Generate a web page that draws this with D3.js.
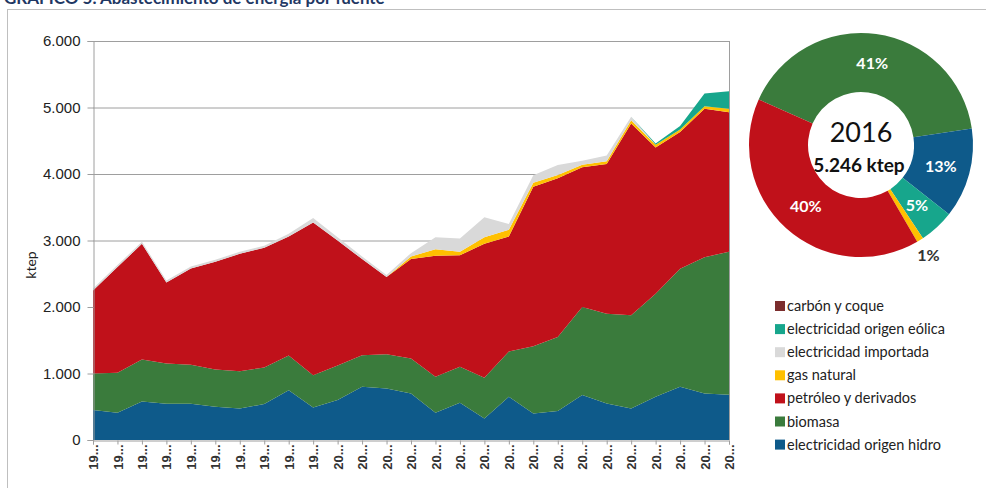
<!DOCTYPE html>
<html>
<head>
<meta charset="utf-8">
<script src="https://cdn.jsdelivr.net/npm/d3@7"></script>
<style>
  body { margin: 0; background: #fff; }
  svg { display: block; font-family: Lato, "Open Sans", sans-serif; }
</style>
</head>
<body>
<div id="chart"></div>
<script>
// years 1990 - 2016
var years = ['1990','1991','1992','1993','1994','1995','1996','1997','1998','1999',
  '2000','2001','2002','2003','2004','2005','2006','2007','2008','2009',
  '2010','2011','2012','2013','2014','2015','2016'];

// ktep por fuente (bottom to top)
var hidro     = [450,410,580,545,545,500,475,540,750,490,600,800,775,700,410,560,325,650,400,435,675,550,475,650,800,700,680];
var biomasa   = [550,600,630,605,585,560,560,550,520,485,520,475,515,525,540,540,610,680,1010,1115,1325,1350,1400,1550,1775,2050,2150];
var petroleo  = [1250,1590,1740,1220,1450,1620,1765,1800,1790,2295,1880,1445,1160,1495,1820,1680,2015,1730,2400,2385,2100,2250,2885,2200,2055,2230,2100];
var gasNatural= [0,0,0,0,0,0,0,0,0,0,0,0,0,40,100,50,100,100,60,50,40,40,50,40,40,40,50];
var importada = [30,30,30,30,30,30,30,30,40,70,50,40,30,50,180,200,300,90,110,150,60,90,50,0,0,0,0];
var eolica    = [0,0,0,0,0,0,0,0,0,0,0,0,0,0,0,0,0,0,0,0,0,0,0,20,50,190,265];
var carbon    = [0,0,0,0,0,0,0,0,0,0,0,0,0,0,0,0,0,0,0,0,0,0,0,0,0,0,0];

var yTicks = [0, 1000, 2000, 3000, 4000, 5000, 6000];

// donut 2016
var pieYear = '2016';
var pieTotal = '5.246 ktep';

var series = [
  { key: 'hidro',     name: 'electricidad origen hidro',   color: '#0E5A8A', values: hidro },
  { key: 'biomasa',   name: 'biomasa',                     color: '#3A7B3C', values: biomasa },
  { key: 'petroleo',  name: 'petróleo y derivados',        color: '#C0111A', values: petroleo },
  { key: 'gas',       name: 'gas natural',                 color: '#FFC000', values: gasNatural },
  { key: 'importada', name: 'electricidad importada',      color: '#D9D9D9', values: importada },
  { key: 'eolica',    name: 'electricidad origen eólica',  color: '#17A68C', values: eolica },
  { key: 'carbon',    name: 'carbón y coque',              color: '#7B2D2D', values: carbon }
];

var W = 986, H = 488;
var svg = d3.select('#chart').append('svg')
  .attr('width', W)
  .attr('height', H);

// title, cut at the top edge like in the source image
svg.append('text')
  .attr('x', 4)
  .attr('y', 4)
  .style('font-size', '17px')
  .style('font-weight', 'bold')
  .style('fill', '#1F3864')
  .text('GRÁFICO 5. Abastecimiento de energía por fuente');

// outer frame
svg.append('rect')
  .attr('x', 7.5).attr('y', 9.5)
  .attr('width', 1000).attr('height', 500)
  .attr('fill', 'none')
  .attr('stroke', '#BFBFBF');

var margin = { left: 93, right: 729, top: 41, bottom: 440 };

var x = d3.scalePoint()
  .domain(years)
  .range([margin.left, margin.right])
  .padding(0);

var y = d3.scaleLinear()
  .domain([0, 6000])
  .range([margin.bottom, margin.top]);

// stacked data
var table = years.map(function(yr, i) {
  var row = { year: yr };
  series.forEach(function(s) { row[s.key] = s.values[i]; });
  return row;
});
var stack = d3.stack().keys(series.map(function(s) { return s.key; }));
var layers = stack(table);

// gridlines
svg.append('g')
  .selectAll('line')
  .data(yTicks.filter(function(d) { return d > 0; }))
  .enter().append('line')
  .attr('x1', margin.left).attr('x2', margin.right)
  .attr('y1', function(d) { return y(d) + 0.5; })
  .attr('y2', function(d) { return y(d) + 0.5; })
  .attr('stroke', '#9E9E9E');

var area = d3.area()
  .x(function(d) { return x(d.data.year); })
  .y0(function(d) { return y(d[0]); })
  .y1(function(d) { return y(d[1]); });

svg.append('g')
  .selectAll('path')
  .data(layers)
  .enter().append('path')
  .attr('d', area)
  .attr('fill', function(d, i) { return series[i].color; });

// right border of plot
svg.append('line')
  .attr('x1', margin.right + 0.5).attr('x2', margin.right + 0.5)
  .attr('y1', margin.top).attr('y2', margin.bottom)
  .attr('stroke', '#9E9E9E');

// y axis
var yAxis = svg.append('g')
  .attr('transform', 'translate(' + (margin.left + 0.5) + ',0)')
  .call(d3.axisLeft(y).tickValues(yTicks).tickSize(6).tickPadding(7)
    .tickFormat(function(d) { return d3.format(',')(d).replace(/,/g, '.'); }));
yAxis.select('.domain').attr('stroke', '#9E9E9E');
yAxis.selectAll('.tick line').attr('stroke', '#9E9E9E');
yAxis.selectAll('text')
  .style('font-size', '15px')
  .style('fill', '#222');

svg.append('text')
  .attr('transform', 'translate(36,265) rotate(-90)')
  .attr('text-anchor', 'middle')
  .style('font-size', '14px')
  .style('fill', '#222')
  .text('ktep');

// x axis
var xAxis = svg.append('g')
  .attr('transform', 'translate(0,' + (margin.bottom + 0.5) + ')')
  .call(d3.axisBottom(x).tickSize(4).tickFormat(function(d) { return d.slice(0, 2) + '...'; }));
xAxis.select('.domain').attr('stroke', '#9E9E9E');
xAxis.selectAll('.tick line').attr('stroke', '#9E9E9E');
xAxis.selectAll('text')
  .attr('transform', 'rotate(-90)')
  .attr('text-anchor', 'end')
  .attr('x', -4)
  .attr('y', 0)
  .attr('dy', '0.35em')
  .style('font-size', '13px')
  .style('font-weight', 'bold')
  .style('fill', '#333');

// donut for the last year
var last = years.length - 1;
var pieOrder = ['biomasa', 'hidro', 'eolica', 'gas', 'petroleo'];
var pieData = pieOrder.map(function(k) {
  var s = series.find(function(t) { return t.key === k; });
  return { key: k, color: s.color, value: s.values[last] };
});
var pieSum = d3.sum(pieData, function(d) { return d.value; });

var cx = 861, cy = 145, rOut = 112, rIn = 53;
var startA = -66 * Math.PI / 180;
var pie = d3.pie()
  .sort(null)
  .value(function(d) { return d.value; })
  .startAngle(startA)
  .endAngle(startA + 2 * Math.PI);
var arc = d3.arc().innerRadius(rIn).outerRadius(rOut);
var labelArc = d3.arc().innerRadius(rOut + 8).outerRadius(rOut + 8);

var donut = svg.append('g').attr('transform', 'translate(' + cx + ',' + cy + ')');
var arcs = pie(pieData);
donut.selectAll('path')
  .data(arcs)
  .enter().append('path')
  .attr('d', arc)
  .attr('fill', function(d) { return d.data.color; });

donut.selectAll('text.pct')
  .data(arcs)
  .enter().append('text')
  .attr('class', 'pct')
  .attr('transform', function(d) {
    var small = d.data.value / pieSum < 0.03;
    var p = small ? labelArc.centroid(d) : arc.centroid(d);
    if (small) p = [p[0] + 4, p[1] + 8];
    return 'translate(' + p[0] + ',' + p[1] + ')';
  })
  .attr('text-anchor', 'middle')
  .attr('dy', '0.35em')
  .style('font-size', '16px')
  .style('font-weight', 'bold')
  .style('fill', function(d) { return d.data.value / pieSum < 0.03 ? '#333' : '#fff'; })
  .text(function(d) { return Math.round(d.data.value / pieSum * 100) + '%'; });

donut.append('text')
  .attr('y', -3)
  .attr('text-anchor', 'middle')
  .style('font-size', '27px')
  .style('fill', '#111')
  .text(pieYear);
donut.append('text')
  .attr('x', -2)
  .attr('y', 27)
  .attr('text-anchor', 'middle')
  .style('font-size', '19px')
  .style('font-weight', 'bold')
  .style('fill', '#111')
  .text(pieTotal);

// legend
var legendItems = series.slice().reverse();
var legend = svg.append('g').attr('transform', 'translate(775,306)');
legendItems.forEach(function(s, i) {
  var g = legend.append('g').attr('transform', 'translate(0,' + (i * 23.1) + ')');
  g.append('rect')
    .attr('x', 0).attr('y', -5)
    .attr('width', 10).attr('height', 10)
    .attr('fill', s.color);
  g.append('text')
    .attr('x', 12)
    .attr('dy', '0.35em')
    .style('font-size', '14.5px')
    .style('fill', '#222')
    .text(s.name);
});
</script>
</body>
</html>
